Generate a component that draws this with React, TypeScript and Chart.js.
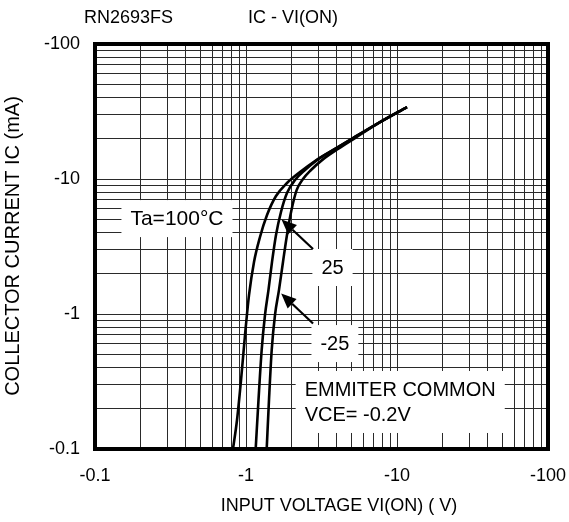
import React, { useEffect, useRef } from 'react';
import { Chart, registerables } from 'chart.js';

Chart.register(...registerables);

const W = 569;
const H = 522;
const FONT = '"Liberation Sans", Arial, Helvetica, sans-serif';

// Decade ticks (both axes span 0.1 .. 100, shown with negative sign)
const decades = [0.1, 1, 10, 100];
const xTickLabels = ['-0.1', '-1', '-10', '-100'];
const yTickLabels = ['-0.1', '-1', '-10', '-100'];
const minorSteps = [1, 2, 3, 4, 5, 6, 7, 8, 9];

// Input voltage |VI(ON)| (V) and collector current |IC| (mA) per ambient temperature
const vin100 = [0.82, 0.872, 0.927, 0.985, 1.047, 1.13, 1.238, 1.378, 1.58, 1.868, 2.279, 2.864, 3.886, 5.11, 7.72, 11.65];
const ic100 = [0.1, 0.164, 0.324, 0.699, 1.38, 2.43, 3.72, 5.41, 7.48, 9.34, 11.27, 13.6, 16.7, 20.1, 26.4, 34.1];

const vin25 = [1.159, 1.21, 1.27, 1.336, 1.409, 1.487, 1.58, 1.705, 1.868, 2.111, 2.459, 2.953, 3.886, 5.11, 7.72, 11.65];
const ic25 = [0.1, 0.231, 0.541, 0.983, 1.51, 2.43, 3.85, 5.7, 7.87, 9.83, 11.66, 13.8, 16.7, 20.1, 26.4, 34.1];

const vinM25 = [1.371, 1.42, 1.48, 1.556, 1.654, 1.758, 1.868, 2.001, 2.167, 2.385, 2.695, 3.187, 4.067, 5.27, 7.72, 11.65];
const icM25 = [0.1, 0.231, 0.541, 0.983, 1.51, 2.43, 3.85, 5.89, 8.3, 10.0, 11.66, 13.8, 16.7, 20.1, 26.4, 34.1];

const seriesNames = ['Ta=100°C', '25', '-25'];

const toPoints = (xs: number[], ys: number[]) => xs.map((x, i) => ({ x, y: ys[i] }));

const gridValues = () => {
  const out: number[] = [];
  decades.slice(0, -1).forEach((d) => minorSteps.forEach((m) => out.push(+(d * m).toPrecision(3))));
  out.push(decades[decades.length - 1]);
  return out;
};

const labelFor = (v: number, labels: string[]) => {
  const i = decades.findIndex((d) => Math.abs(d - v) / d < 1e-6);
  return i >= 0 ? labels[i] : '';
};

// In-plot notes, anchored in data coordinates (box centre)
const notes = [
  { lines: ['Ta=100°C'], x: 0.349, y: 5.09, align: 'center', size: 21 },
  { lines: ['25'], x: 3.74, y: 2.21, align: 'center', size: 20 },
  { lines: ['-25'], x: 3.88, y: 0.604, align: 'center', size: 20 },
  { lines: ['EMMITER COMMON', 'VCE= -0.2V'], x: 10.5, y: 0.223, align: 'left', size: 20 },
];

const arrows = [
  { from: { x: 2.78, y: 3.03 }, to: { x: 1.72, y: 5.01 } },
  { from: { x: 2.78, y: 0.851 }, to: { x: 1.71, y: 1.42 } },
];

const decorPlugin = {
  id: 'decor',
  beforeDatasetsDraw(chart: any) {
    const { ctx, scales } = chart;
    const xs = scales.x;
    const ys = scales.y;
    ctx.save();
    ctx.textBaseline = 'middle';
    const lh = 25;
    const padX = 9;
    const padY = 8;
    notes.forEach((n) => {
      ctx.font = `${n.size}px ${FONT}`;
      const cx = xs.getPixelForValue(n.x);
      const cy = ys.getPixelForValue(n.y);
      const tw = Math.max(...n.lines.map((l) => ctx.measureText(l).width));
      const bw = tw + padX * 2;
      const bh = n.lines.length * lh + padY * 2 - 4;
      ctx.fillStyle = '#fff';
      ctx.fillRect(cx - bw / 2, cy - bh / 2, bw, bh);
      ctx.fillStyle = '#000';
      n.lines.forEach((l, i) => {
        const ly = cy + (i - (n.lines.length - 1) / 2) * lh + 1;
        if (n.align === 'left') {
          ctx.textAlign = 'left';
          ctx.fillText(l, cx - bw / 2 + padX, ly);
        } else {
          ctx.textAlign = 'center';
          ctx.fillText(l, cx, ly);
        }
      });
    });
    ctx.restore();
  },
  afterDatasetsDraw(chart: any) {
    const { ctx, scales, chartArea } = chart;
    const xs = scales.x;
    const ys = scales.y;
    ctx.save();
    // arrows
    ctx.strokeStyle = '#000';
    ctx.fillStyle = '#000';
    ctx.lineWidth = 2.2;
    arrows.forEach((a) => {
      const x0 = xs.getPixelForValue(a.from.x);
      const y0 = ys.getPixelForValue(a.from.y);
      const x1 = xs.getPixelForValue(a.to.x);
      const y1 = ys.getPixelForValue(a.to.y);
      const ang = Math.atan2(y1 - y0, x1 - x0);
      const hl = 15;
      const hw = 6.5;
      const bx = x1 - hl * Math.cos(ang);
      const by = y1 - hl * Math.sin(ang);
      ctx.beginPath();
      ctx.moveTo(x0, y0);
      ctx.lineTo(bx, by);
      ctx.stroke();
      ctx.beginPath();
      ctx.moveTo(x1, y1);
      ctx.lineTo(bx + hw * Math.sin(ang), by - hw * Math.cos(ang));
      ctx.lineTo(bx - hw * Math.sin(ang), by + hw * Math.cos(ang));
      ctx.closePath();
      ctx.fill();
    });
    // heavy frame
    ctx.lineWidth = 4;
    ctx.strokeRect(chartArea.left, chartArea.top, chartArea.right - chartArea.left, chartArea.bottom - chartArea.top);
    ctx.restore();
  },
  afterDraw(chart: any) {
    const { ctx } = chart;
    ctx.save();
    ctx.fillStyle = '#000';
    ctx.font = `18px ${FONT}`;
    ctx.textAlign = 'center';
    ctx.textBaseline = 'middle';
    ctx.fillText('RN2693FS', 128.5, 18);
    ctx.fillText('IC - VI(ON)', 293, 18);
    ctx.fillText('INPUT VOLTAGE VI(ON) ( V)', 339, 506);
    ctx.font = `20px ${FONT}`;
    ctx.translate(13, 246);
    ctx.rotate(-Math.PI / 2);
    ctx.fillText('COLLECTOR CURRENT IC (mA)', 0, 0);
    ctx.restore();
  },
};

export default function App() {
  const ref = useRef<HTMLCanvasElement | null>(null);

  useEffect(() => {
    document.body.style.margin = '0';
    if (!ref.current) return;
    const lineStyle = {
      borderColor: '#000',
      borderWidth: 2.6,
      pointRadius: 0,
      fill: false,
      cubicInterpolationMode: 'monotone' as const,
    };
    const chart = new Chart(ref.current, {
      type: 'line',
      data: {
        datasets: [
          { label: seriesNames[0], data: toPoints(vin100, ic100), ...lineStyle },
          { label: seriesNames[1], data: toPoints(vin25, ic25), ...lineStyle },
          { label: seriesNames[2], data: toPoints(vinM25, icM25), ...lineStyle },
        ],
      },
      options: {
        animation: false,
        responsive: true,
        maintainAspectRatio: false,
        layout: { padding: { left: 0, top: 44, right: 21, bottom: 0 } },
        plugins: { legend: { display: false }, tooltip: { enabled: false } },
        scales: {
          x: {
            type: 'logarithmic',
            min: 0.1,
            max: 100,
            afterBuildTicks: (s: any) => {
              s.ticks = gridValues().map((v) => ({ value: v }));
            },
            afterFit: (s: any) => {
              s.height = 73;
              s.paddingLeft = 0;
              s.paddingRight = 0;
            },
            grid: { color: '#2a2a2a', lineWidth: 1, drawTicks: false },
            border: { display: false },
            ticks: {
              autoSkip: false,
              maxRotation: 0,
              padding: 16,
              color: '#000',
              font: { family: FONT, size: 18 },
              callback: (v: any) => labelFor(Number(v), xTickLabels),
            },
          },
          y: {
            type: 'logarithmic',
            min: 0.1,
            max: 100,
            afterBuildTicks: (s: any) => {
              s.ticks = gridValues().map((v) => ({ value: v }));
            },
            afterFit: (s: any) => {
              s.width = 95;
              s.paddingTop = 0;
              s.paddingBottom = 0;
            },
            grid: { color: '#2a2a2a', lineWidth: 1, drawTicks: false },
            border: { display: false },
            ticks: {
              autoSkip: false,
              padding: 15,
              color: '#000',
              font: { family: FONT, size: 18 },
              callback: (v: any) => labelFor(Number(v), yTickLabels),
            },
          },
        },
      },
      plugins: [decorPlugin],
    });
    return () => chart.destroy();
  }, []);

  return (
    <div style={{ position: 'fixed', left: 0, top: 0, width: W, height: H, background: '#fff' }}>
      <canvas ref={ref} />
    </div>
  );
}
